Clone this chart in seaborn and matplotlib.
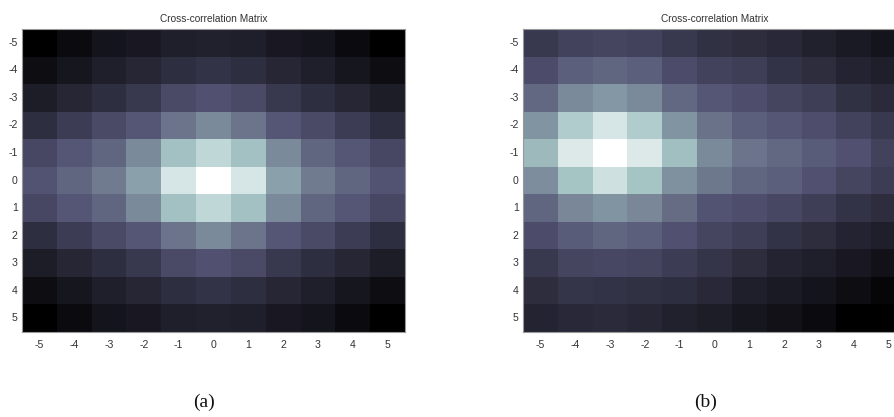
import numpy as np
import pandas as pd
import matplotlib
matplotlib.use("Agg")
import matplotlib.pyplot as plt
import seaborn as sns

# Lag axes shared by both matrices
lags = [-5, -4, -3, -2, -1, 0, 1, 2, 3, 4, 5]
tick_labels = [str(v) for v in lags]
title = "Cross-correlation Matrix"
captions = ["(a)", "(b)"]

# (a) centred cross-correlation (rows = vertical lag, columns = horizontal lag)
corr_a = [
    [0.00, 0.05, 0.09, 0.11, 0.14, 0.15, 0.14, 0.11, 0.09, 0.05, 0.00],
    [0.06, 0.10, 0.14, 0.17, 0.21, 0.23, 0.21, 0.17, 0.14, 0.10, 0.06],
    [0.13, 0.17, 0.21, 0.25, 0.33, 0.36, 0.33, 0.25, 0.21, 0.17, 0.13],
    [0.21, 0.27, 0.33, 0.38, 0.48, 0.55, 0.48, 0.38, 0.33, 0.27, 0.21],
    [0.32, 0.38, 0.43, 0.55, 0.73, 0.82, 0.73, 0.55, 0.43, 0.38, 0.32],
    [0.37, 0.43, 0.50, 0.62, 0.88, 1.00, 0.88, 0.62, 0.50, 0.43, 0.37],
    [0.32, 0.38, 0.43, 0.55, 0.73, 0.82, 0.73, 0.55, 0.43, 0.38, 0.32],
    [0.21, 0.27, 0.33, 0.38, 0.48, 0.55, 0.48, 0.38, 0.33, 0.27, 0.21],
    [0.13, 0.17, 0.21, 0.25, 0.33, 0.36, 0.33, 0.25, 0.21, 0.17, 0.13],
    [0.06, 0.10, 0.14, 0.17, 0.21, 0.23, 0.21, 0.17, 0.14, 0.10, 0.06],
    [0.00, 0.05, 0.09, 0.11, 0.14, 0.15, 0.14, 0.11, 0.09, 0.05, 0.00],
]

# (b) shifted cross-correlation, peak at (-1, -3)
corr_b = [
    [0.25, 0.30, 0.31, 0.30, 0.25, 0.22, 0.20, 0.18, 0.15, 0.12, 0.09],
    [0.34, 0.41, 0.43, 0.41, 0.34, 0.30, 0.28, 0.23, 0.20, 0.16, 0.14],
    [0.44, 0.55, 0.59, 0.55, 0.44, 0.38, 0.35, 0.31, 0.28, 0.22, 0.19],
    [0.58, 0.77, 0.88, 0.77, 0.58, 0.47, 0.41, 0.38, 0.35, 0.30, 0.25],
    [0.70, 0.90, 1.00, 0.90, 0.72, 0.55, 0.48, 0.44, 0.40, 0.36, 0.30],
    [0.56, 0.74, 0.86, 0.74, 0.57, 0.49, 0.43, 0.41, 0.36, 0.31, 0.27],
    [0.43, 0.54, 0.58, 0.54, 0.45, 0.37, 0.35, 0.32, 0.28, 0.23, 0.20],
    [0.34, 0.40, 0.43, 0.41, 0.36, 0.31, 0.28, 0.23, 0.20, 0.16, 0.14],
    [0.25, 0.31, 0.32, 0.31, 0.27, 0.24, 0.20, 0.16, 0.14, 0.11, 0.08],
    [0.20, 0.24, 0.23, 0.22, 0.21, 0.18, 0.14, 0.12, 0.09, 0.06, 0.03],
    [0.16, 0.18, 0.19, 0.17, 0.15, 0.13, 0.10, 0.08, 0.05, 0.00, 0.00],
]

sns.set_theme(style="white")
plt.rcParams["font.family"] = ["Liberation Sans", "DejaVu Sans"]

W, H = 894, 417
fig = plt.figure(figsize=(W / 100, H / 100), dpi=100)

# panel boxes in pixels: left, top, width, height
boxes = [(22, 29, 383, 303), (523, 29, 383, 303)]
caption_x = [204, 706]

for data, (l, t, w, h), cx, cap in zip([corr_a, corr_b], boxes, caption_x, captions):
    ax = fig.add_axes([l / W, 1 - (t + h) / H, w / W, h / H])
    df = pd.DataFrame(data, index=lags, columns=lags)
    sns.heatmap(df, ax=ax, cmap="bone", vmin=0, vmax=1, cbar=False,
                xticklabels=tick_labels, yticklabels=tick_labels)
    ax.set_title(title, fontsize=7.3, color="#333333", pad=5)
    ax.tick_params(axis="both", which="both", direction="in", length=3.5,
                   width=0.6, color="#222222", labelsize=7.6,
                   labelcolor="#333333", pad=3,
                   top=True, right=True, bottom=True, left=True)
    ax.tick_params(axis="x", pad=6)
    plt.setp(ax.get_yticklabels(), rotation=0)
    plt.setp(ax.get_xticklabels(), rotation=0)
    for side, sp in ax.spines.items():
        sp.set_visible(True)
        sp.set_color("#999999")
        sp.set_linewidth(0.8)
    fig.text(cx / W, 1 - 402 / H, cap, ha="center", va="center",
             fontsize=14, family="Liberation Serif", color="#111111")

fig.savefig("out.png", dpi=100)
